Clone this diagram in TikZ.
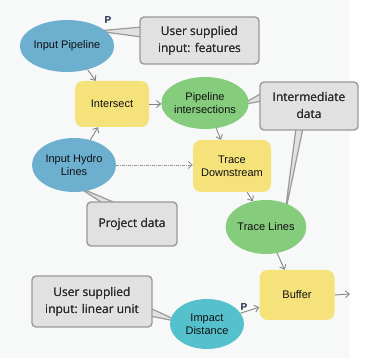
\documentclass[tikz,border=0pt]{standalone}
\usepackage{fontspec}
\setmainfont{Liberation Sans}
\newfontfamily\calloutfont{Open Sans}
\usetikzlibrary{arrows.meta,shapes.geometric}
\definecolor{bgc}{HTML}{F7F8F8}
\definecolor{blueN}{HTML}{6DAFCF}
\definecolor{yellowN}{HTML}{F5E27B}
\definecolor{greenN}{HTML}{85CC7D}
\definecolor{cyanN}{HTML}{55C1CD}
\definecolor{cfill}{HTML}{E1E1E1}
\definecolor{cdraw}{HTML}{9A9A9A}
\definecolor{linec}{HTML}{858585}
\definecolor{txt}{HTML}{101010}
\definecolor{ptxt}{HTML}{1B2B4B}
\tikzset{
  nodetext/.style={font=\fontsize{11}{13}\selectfont, text=txt, align=center, inner sep=0pt},
  ell/.style={nodetext, ellipse, draw=none},
  tool/.style={nodetext, rectangle, rounded corners=8pt, fill=yellowN, draw=none},
  callout/.style={rectangle, rounded corners=4pt, fill=cfill, draw=cdraw, line width=1.4pt,
     font=\calloutfont\fontsize{12}{17}\selectfont, text=black!85, align=center, inner sep=0pt},
  ptr/.style={fill=cfill, draw=cdraw, line width=1.2pt, line join=miter},
  arr/.style={draw=linec, line width=0.9pt, -{Straight Barb[length=4pt,width=7pt]}},
  dotarr/.style={draw=linec!85, line width=0.9pt, dash pattern=on 3pt off 1pt on 1pt off 1pt, -{Straight Barb[length=4pt,width=7pt]}},
  plabel/.style={font=\bfseries\fontsize{10}{12}\selectfont, text=ptxt, inner sep=0pt}
}
\begin{document}
\begin{tikzpicture}[x=1pt,y=-1pt]
\useasboundingbox (0,0) rectangle (365,358);
\fill[white] (0,0) rectangle (365,358);
\fill[bgc] (0,0) rectangle (350,358);

% pointer tips
\coordinate (t1) at (97,31);
\coordinate (t2) at (241,105);
\coordinate (t2b) at (285,214);
\coordinate (t3) at (78,187);
\coordinate (t4) at (180,322);

% callout pointers (drawn first)
\draw[ptr] (142,27) -- (t1) -- (142,37) -- cycle;
\draw[ptr] (262,93) -- (t2) -- (262,101) -- cycle;
\draw[ptr] (296,128) -- (t2b) -- (303,128) -- cycle;
\draw[ptr] (104,204) -- (t3) -- (118,204) -- cycle;
\draw[ptr] (150,308) -- (t4) -- (150,316) -- cycle;

% callouts
\node[callout, minimum width=119pt, minimum height=47pt] (c1) at (199.5,40.5) {User supplied\\input: features};
\node[callout, minimum width=98pt, minimum height=48pt] (c2) at (309,106) {Intermediate\\data};
\node[callout, minimum width=90pt, minimum height=44pt] (c3) at (132,224) {Project data};
\node[callout, minimum width=120pt, minimum height=51pt] (c4) at (92,301.5) {User supplied\\input: linear unit};

% merge pointer bases into boxes
\begin{scope}
  \clip (141,18) rectangle (258,63);
  \fill[cfill] (136,27) -- (t1) -- (136,37) -- cycle;
\end{scope}
\begin{scope}
  \clip (261,83) rectangle (357,129);
  \fill[cfill] (256,93) -- (t2) -- (256,101) -- cycle;
  \fill[cfill] (296,134) -- (t2b) -- (303,134) -- cycle;
\end{scope}
\begin{scope}
  \clip (88,203) rectangle (176,245);
  \fill[cfill] (104,198) -- (t3) -- (118,198) -- cycle;
\end{scope}
\begin{scope}
  \clip (33,277) rectangle (151,326);
  \fill[cfill] (156,308) -- (t4) -- (156,316) -- cycle;
\end{scope}

% redraw text of callouts on top
\node[callout, draw=none, fill=none] at (c1.center) {User supplied\\input: features};
\node[callout, draw=none, fill=none] at (c2.center) {Intermediate\\data};
\node[callout, draw=none, fill=none] at (c3.center) {Project data};
\node[callout, draw=none, fill=none] at (c4.center) {User supplied\\input: linear unit};

% process nodes
\node[ell, fill=blueN, minimum width=80pt, minimum height=52pt] (ip) at (67,46) {Input Pipeline};
\node[tool, minimum width=74pt, minimum height=46pt] (inter) at (112,104) {Intersect};
\node[ell, fill=greenN, minimum width=78pt, minimum height=52pt] (pi) at (205,103) {Pipeline\\intersections};
\node[ell, fill=blueN, minimum width=84pt, minimum height=54pt] (ihl) at (74,165) {Input Hydro\\Lines};
\node[tool, minimum width=78pt, minimum height=52pt] (td) at (232,166) {Trace\\Downstream};
\node[ell, fill=greenN, minimum width=78pt, minimum height=54pt] (tl) at (266,227) {Trace Lines};
\node[tool, minimum width=75pt, minimum height=50pt] (buf) at (297,295) {Buffer};
\node[ell, fill=cyanN, minimum width=74pt, minimum height=50pt] (id) at (207,324) {Impact\\Distance};
\coordinate (out) at (350,294);

% P labels
\node[plabel] (p1) at (108,20) {P};
\node[plabel] (p2) at (244,307) {P};

% connectors
\draw[arr] (ip.-49) -- (inter.125);
\draw[arr] (inter.east) -- (pi.west |- inter.east);
\draw[arr] (ihl.57) -- (inter.-121);
\draw[dotarr] (ihl.east) -- (td.west |- ihl.east);
\draw[arr] (pi.-66) -- (td.113);
\draw[arr] (td.-60) -- (tl.117);
\draw[arr] (tl.-67) -- (buf.116);
\draw[arr] (id.18) -- (buf.-162);
\draw[arr] (buf.east) -- (out);
\end{tikzpicture}
\end{document}
